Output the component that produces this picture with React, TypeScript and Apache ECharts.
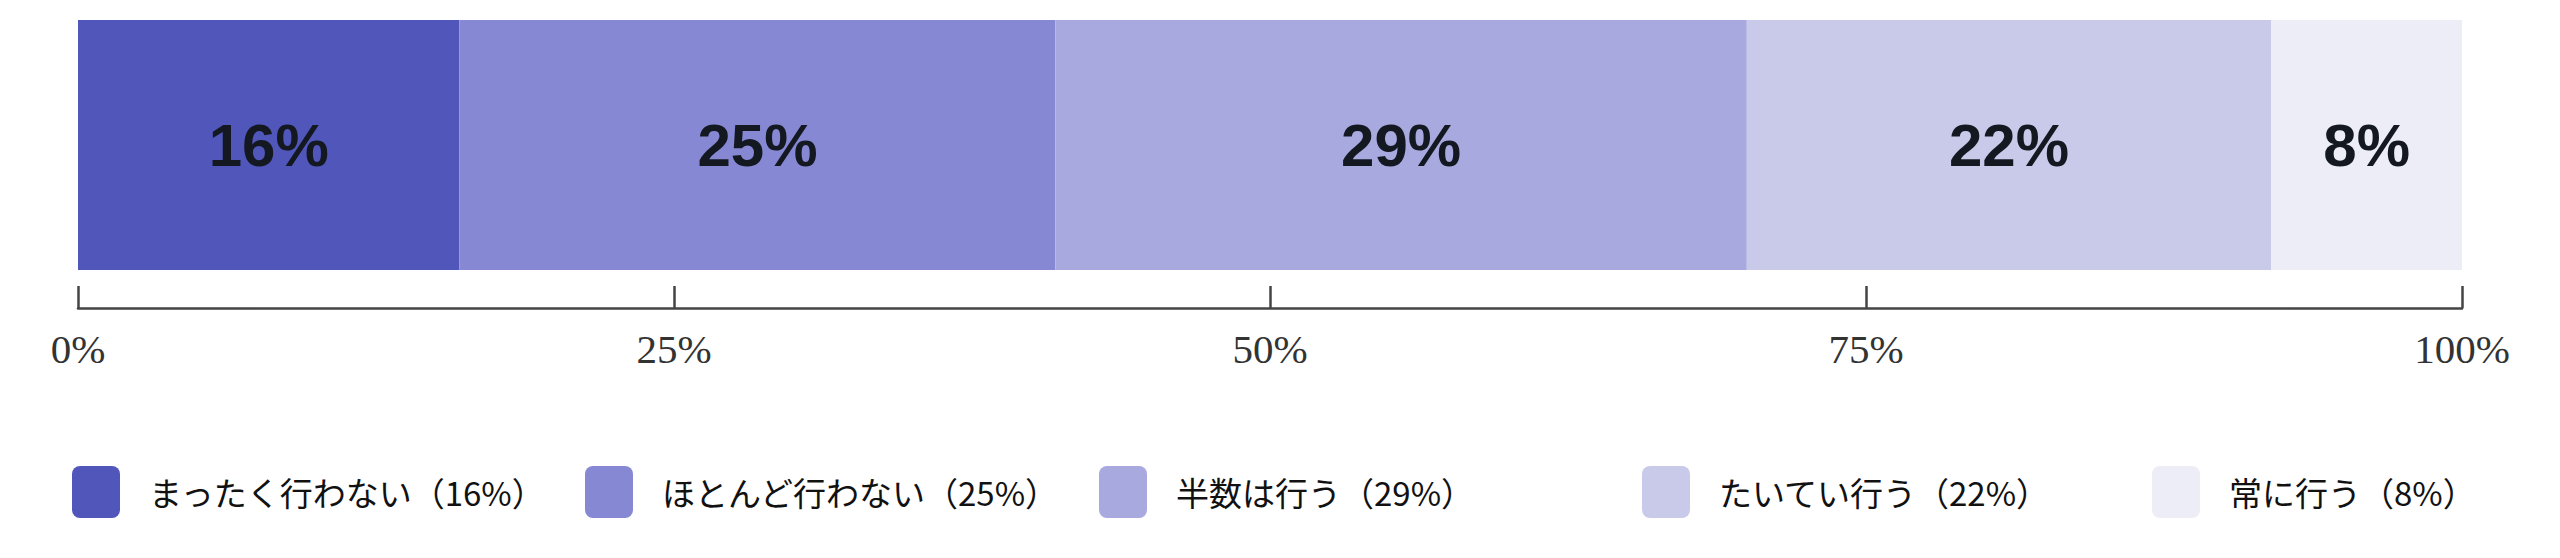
import React, { useEffect, useRef } from "react";
import * as echarts from "echarts";

const categories = ["まったく行わない", "ほとんど行わない", "半数は行う", "たいてい行う", "常に行う"];
const values = [16, 25, 29, 22, 8];
const colors = ["#5156ba", "#8688d3", "#a8a9de", "#c9cae9", "#ededf8"];
const tickValues = [0, 25, 50, 75, 100];
const legendLefts = [72, 585, 1099, 1642, 2152];

const roundIcon =
  "path://M8,0 H40 A8,8 0 0 1 48,8 V44 A8,8 0 0 1 40,52 H8 A8,8 0 0 1 0,44 V8 A8,8 0 0 1 8,0 Z";

export default function App() {
  const ref = useRef<HTMLDivElement>(null);
  useEffect(() => {
    if (!ref.current) return;
    const chart = echarts.init(ref.current, null, { renderer: "svg" });
    const series = categories.map((name, i) => ({
      name,
      type: "bar",
      stack: "total",
      barWidth: "100%",
      data: [values[i]],
      itemStyle: { color: colors[i] },
      label: {
        show: true,
        position: "inside",
        formatter: "{c}%",
        fontSize: 60,
        fontWeight: "bold",
        fontFamily: "Liberation Sans, Arial, sans-serif",
        color: "#141821",
      },
      emphasis: { disabled: true },
    }));
    const legends = categories.map((name, i) => ({
      show: true,
      data: [name],
      left: legendLefts[i],
      top: 466,
      padding: 0,
      orient: "horizontal",
      icon: roundIcon,
      itemWidth: 48,
      itemHeight: 52,
      selectedMode: false,
      formatter: (n: string) => `${n}（${values[categories.indexOf(n)]}%）`,
      textStyle: {
        fontSize: 33,
        fontFamily: "Noto Sans CJK JP, sans-serif",
        color: "#111111",
        padding: [0, 0, 0, 24],
      },
    }));
    chart.setOption({
      animation: false,
      backgroundColor: "#ffffff",
      grid: { left: 78, right: 98, top: 20, height: 250, containLabel: false },
      legend: legends,
      xAxis: {
        type: "value",
        min: tickValues[0],
        max: tickValues[tickValues.length - 1],
        interval: 25,
        position: "bottom",
        offset: 38,
        axisLine: { show: true, lineStyle: { color: "#444444", width: 2.5 } },
        axisTick: { show: true, inside: true, length: 22, lineStyle: { color: "#444444", width: 2.5 } },
        axisLabel: {
          show: true,
          margin: 20,
          formatter: "{value}%",
          fontSize: 41,
          fontFamily: "Liberation Serif, Times New Roman, serif",
          color: "#333333",
        },
        splitLine: { show: false },
      },
      yAxis: {
        type: "category",
        data: [""],
        show: false,
      },
      series,
    });
    return () => chart.dispose();
  }, []);
  return (
    <div
      ref={ref}
      style={{ position: "fixed", left: 0, top: 0, width: 2560, height: 558, background: "#fff" }}
    />
  );
}
